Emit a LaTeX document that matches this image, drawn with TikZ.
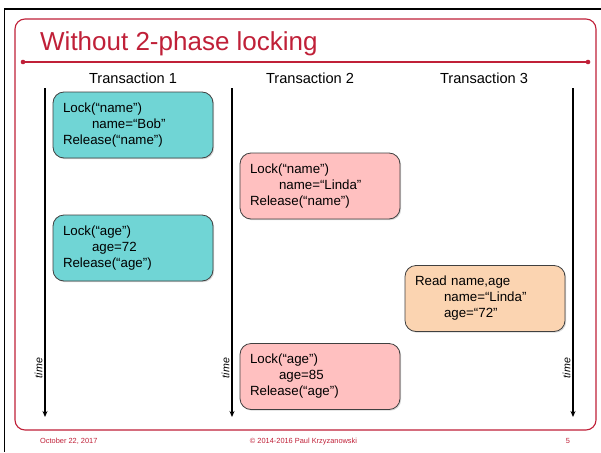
\documentclass[tikz,border=0pt]{standalone}
\usepackage{fontspec}
\setmainfont{Liberation Sans}
\usetikzlibrary{arrows.meta,shadows}

\definecolor{slidered}{RGB}{192,32,56}
\definecolor{tealfill}{RGB}{112,213,213}
\definecolor{pinkfill}{RGB}{255,192,192}
\definecolor{peachfill}{RGB}{251,212,177}

\tikzset{
  opbox/.style={rectangle, rounded corners=11pt, draw=black!75, line width=0.8pt,
    minimum width=160pt, minimum height=66pt, text width=140pt, align=left,
    inner xsep=10pt, inner ysep=0pt,
    font=\fontsize{13.3}{16}\selectfont,
    drop shadow={opacity=0.3, shadow xshift=1.2pt, shadow yshift=-1.2pt}},
  colhead/.style={font=\fontsize{14.6}{16}\selectfont, inner sep=0pt},
  timeline/.style={line width=1.3pt, -{Stealth[length=6pt,width=5pt]}},
  timelabel/.style={rotate=90, font=\fontsize{10.6}{12}\selectfont\itshape, inner sep=0pt},
  footer/.style={text=slidered, font=\fontsize{7.4}{9}\selectfont, inner sep=0pt},
}

\newcommand{\ind}{\hspace*{29pt}}

\begin{document}
\begin{tikzpicture}[x=1pt, y=-1pt]
  \useasboundingbox[fill=white] (0,0) rectangle (601,452);

  % slide border (top and left edges)
  \draw[line width=1.8pt, black] (601,9) -- (4.5,9) -- (4.5,452);

  % red rounded frame of the slide
  \draw[slidered, line width=1.1pt, rounded corners=10pt] (15,19) rectangle (596,430);

  % title and rule underneath it
  \node[anchor=base west, text=slidered, font=\fontsize{26}{30}\selectfont, inner sep=0pt]
    (title) at (40,51) {Without 2-phase locking};
  \coordinate (ruleL) at (23,62);
  \coordinate (ruleR) at (588,62);
  \draw[slidered, line width=1.1pt] (ruleL) -- (ruleR);
  \fill[slidered] (ruleL) circle (2.3pt) (ruleR) circle (2.3pt);

  % column headers
  \node[colhead, anchor=base] (h1) at (133,83) {Transaction 1};
  \node[colhead, anchor=base] (h2) at (310,83) {Transaction 2};
  \node[colhead, anchor=base] (h3) at (484,83) {Transaction 3};

  % time axes
  \coordinate (t1s) at (45,88);   \coordinate (t1e) at (45,417);
  \coordinate (t2s) at (232,88);  \coordinate (t2e) at (232,417);
  \coordinate (t3s) at (573,88);  \coordinate (t3e) at (573,417);
  \draw[timeline] (t1s) -- (t1e);
  \draw[timeline] (t2s) -- (t2e);
  \draw[timeline] (t3s) -- (t3e);
  \node[timelabel] (tl1) at (38.5,368) {time};
  \node[timelabel] (tl2) at (225.5,368) {time};
  \node[timelabel] (tl3) at (566.5,368) {time};

  % operations of each transaction
  \node[opbox, fill=tealfill] (a1) at (133,125)
    {Lock(“name”)\\\ind name=“Bob”\\Release(“name”)};
  \node[opbox, fill=tealfill] (a2) at (133,248)
    {Lock(“age”)\\\ind age=72\\Release(“age”)};
  \node[opbox, fill=pinkfill] (b1) at (320,186)
    {Lock(“name”)\\\ind name=“Linda”\\Release(“name”)};
  \node[opbox, fill=peachfill] (c1) at (485,298.5)
    {Read name,age\\\ind name=“Linda”\\\ind age=“72”};
  \node[opbox, fill=pinkfill] (b2) at (320,376.5)
    {Lock(“age”)\\\ind age=85\\Release(“age”)};

  % footer
  \node[footer, anchor=base west] (date) at (40,443) {October 22, 2017};
  \node[footer, anchor=base] (copy) at (303.5,443) {© 2014-2016 Paul Krzyzanowski};
  \node[footer, anchor=base] (page) at (568,443) {5};
\end{tikzpicture}
\end{document}
